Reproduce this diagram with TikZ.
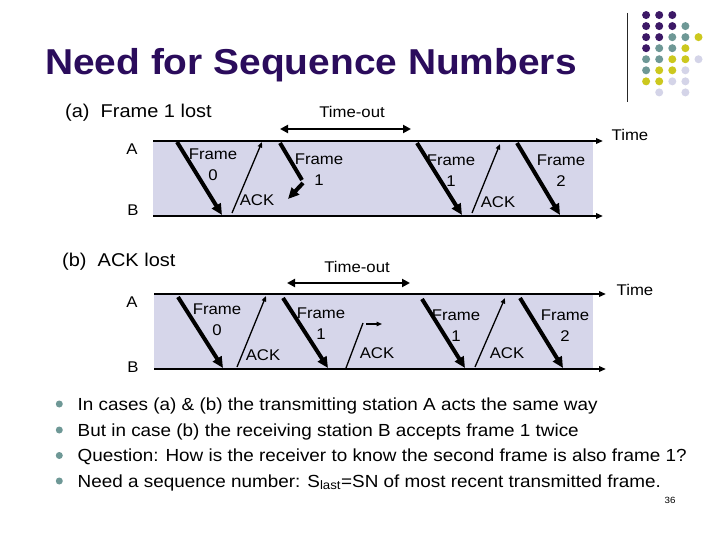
\documentclass[tikz,border=0pt]{standalone}
\usepackage{fontspec}
\setmainfont{Liberation Sans}[FakeStretch=1.08]
\usepackage{tikz}
\usetikzlibrary{arrows.meta}
\definecolor{titlepurple}{RGB}{43,12,92}
\definecolor{lanefill}{RGB}{214,214,234}
\definecolor{dotP}{RGB}{60,24,102}
\definecolor{dotT}{RGB}{110,152,150}
\definecolor{dotY}{RGB}{204,200,30}
\definecolor{dotL}{RGB}{212,212,232}

\begin{document}
\begin{tikzpicture}[x=1pt, y=-1pt,
  lane/.style={fill=lanefill, draw=none},
  axis/.style={-{Triangle[length=7pt,width=5.5pt]}, line width=1.8pt},
  framearr/.style={-{Triangle[length=11pt,width=10pt]}, line width=4pt},
  ackarr/.style={-{Triangle[length=5.5pt,width=4.5pt]}, line width=1.3pt},
  timeout/.style={{Triangle[length=8pt,width=8pt]}-{Triangle[length=8pt,width=8pt]}, line width=2.8pt},
  lbl/.style={font=\fontsize{15.5}{21}\selectfont, align=center, inner sep=0pt},
  station/.style={font=\fontsize{15.5}{18}\selectfont, inner sep=0pt},
  case/.style={font=\fontsize{18.5}{22}\selectfont, anchor=base west, inner sep=0pt},
  item/.style={font=\fontsize{17.5}{21}\selectfont, anchor=base west, inner sep=0pt},
  bullet/.style={fill=dotT, draw=none}
]
\useasboundingbox[fill=white] (0,0) rectangle (720,540);

% title and corner ornament
\node[anchor=base west, inner sep=0pt, text=titlepurple, font=\fontsize{36}{40}\selectfont\bfseries] (title) at (45,74.5) {Need for Sequence Numbers};
\coordinate (rule top) at (627,13);
\coordinate (rule bot) at (627,102);
\draw[line width=0.8pt, black!85] (rule top) -- (rule bot);
\foreach \c/\r/\col in {1/1/dotP, 2/1/dotP, 3/1/dotP,
    1/2/dotP, 2/2/dotP, 3/2/dotP, 4/2/dotT,
    1/3/dotP, 2/3/dotP, 3/3/dotT, 4/3/dotT, 5/3/dotY,
    1/4/dotP, 2/4/dotT, 3/4/dotT, 4/4/dotY,
    1/5/dotT, 2/5/dotT, 3/5/dotY, 4/5/dotY, 5/5/dotL,
    1/6/dotT, 2/6/dotY, 3/6/dotY, 4/6/dotL,
    1/7/dotY, 2/7/dotY, 3/7/dotL, 4/7/dotL,
    2/8/dotL, 4/8/dotL}
  \fill[\col] ({633+13.1*\c},{4+11.05*\r}) circle (4pt);

% (a) frame 1 lost
\node[case] (case a) at (65,117.3) {(a)\ \ Frame 1 lost};
\coordinate (a-A0) at (153,141);
\coordinate (a-A1) at (603,141);
\coordinate (a-B0) at (153,216);
\coordinate (a-B1) at (603,216);
\coordinate (a-R) at (593,216);
\fill[lane] (a-A0) rectangle (a-R);
\draw[axis] (a-A0) -- (a-A1);
\draw[axis] (a-B0) -- (a-B1);
\node[station] (a-A) at (132,149) {A};
\node[station] (a-B) at (133,210.5) {B};
\node[station] (a-time) at (630,134.5) {Time};
\coordinate (a-to0) at (280,129);
\coordinate (a-to1) at (411,129);
\draw[timeout] (a-to0) -- (a-to1);
\node[station] (a-timeout) at (352,112) {Time-out};

\coordinate (a-f0s) at (177,142);
\coordinate (a-f0e) at (222,215);
\coordinate (a-k0s) at (232,213);
\coordinate (a-k0e) at (262,142);
\coordinate (a-l0) at (280,143);
\coordinate (a-l1) at (302,180);
\coordinate (a-l2) at (303,183);
\coordinate (a-l3) at (288,199);
\coordinate (a-f1s) at (417,143);
\coordinate (a-f1e) at (462,215);
\coordinate (a-k1s) at (472,213);
\coordinate (a-k1e) at (500,144);
\coordinate (a-f2s) at (517,143);
\coordinate (a-f2e) at (560,215);
\draw[framearr] (a-f0s) -- (a-f0e);
\draw[ackarr] (a-k0s) -- (a-k0e);
\draw[framearr, -] (a-l0) -- (a-l1);
\draw[framearr] (a-l2) -- (a-l3);
\draw[framearr] (a-f1s) -- (a-f1e);
\draw[ackarr] (a-k1s) -- (a-k1e);
\draw[framearr] (a-f2s) -- (a-f2e);
\node[lbl] (a-f0) at (213,164.5) {Frame\\0};
\node[lbl] (a-k0) at (257,200) {ACK};
\node[lbl] (a-f1) at (319,169.5) {Frame\\1};
\node[lbl] (a-f1b) at (451,170.5) {Frame\\1};
\node[lbl] (a-k1) at (498,202) {ACK};
\node[lbl] (a-f2) at (561,171) {Frame\\2};

% (b) ACK lost
\node[case] (case b) at (62,266) {(b)\ \ ACK lost};
\coordinate (b-A0) at (154,294);
\coordinate (b-A1) at (606,294);
\coordinate (b-B0) at (154,369);
\coordinate (b-B1) at (606,369);
\coordinate (b-R) at (593,369);
\fill[lane] (b-A0) rectangle (b-R);
\draw[axis] (b-A0) -- (b-A1);
\draw[axis] (b-B0) -- (b-B1);
\node[station] (b-A) at (132,301.7) {A};
\node[station] (b-B) at (133,367) {B};
\node[station] (b-time) at (635,290) {Time};
\coordinate (b-to0) at (287,283);
\coordinate (b-to1) at (410,283);
\draw[timeout] (b-to0) -- (b-to1);
\node[station] (b-timeout) at (357,267) {Time-out};

\coordinate (b-f0s) at (178,297);
\coordinate (b-f0e) at (223,368);
\coordinate (b-k0s) at (237,367);
\coordinate (b-k0e) at (266,296);
\coordinate (b-f1s) at (283,298);
\coordinate (b-f1e) at (328,368);
\coordinate (b-l0) at (346,368);
\coordinate (b-l1) at (363,323);
\coordinate (b-l2) at (366,324);
\coordinate (b-l3) at (382,324);
\coordinate (b-f1bs) at (422,299);
\coordinate (b-f1be) at (465,368);
\coordinate (b-k1s) at (475,367);
\coordinate (b-k1e) at (505,298);
\coordinate (b-f2s) at (520,298);
\coordinate (b-f2e) at (563,368);
\draw[framearr] (b-f0s) -- (b-f0e);
\draw[ackarr] (b-k0s) -- (b-k0e);
\draw[framearr] (b-f1s) -- (b-f1e);
\draw[ackarr, -] (b-l0) -- (b-l1);
\draw[ackarr] (b-l2) -- (b-l3);
\draw[framearr] (b-f1bs) -- (b-f1be);
\draw[ackarr] (b-k1s) -- (b-k1e);
\draw[framearr] (b-f2s) -- (b-f2e);
\node[lbl] (b-f0) at (217,320) {Frame\\0};
\node[lbl] (b-k0) at (263,355) {ACK};
\node[lbl] (b-f1) at (321,324) {Frame\\1};
\node[lbl] (b-kl) at (377,353) {ACK};
\node[lbl] (b-f1b) at (456,325.5) {Frame\\1};
\node[lbl] (b-k1) at (507,353) {ACK};
\node[lbl] (b-f2) at (565,326) {Frame\\2};

% bullet list
\foreach \y/\txt [count=\i] in {410/{In cases (a) \& (b) the transmitting station A acts the same way},
    436/{But in case (b) the receiving station B accepts frame 1 twice},
    461.5/{Question: How is the receiver to know the second frame is also frame 1?},
    487/{Need a sequence number: S\textsubscript{last}=SN of most recent transmitted frame.}} {
  \fill[bullet] (59.3,\y-6) circle (3.5pt);
  \node[item] (item\i) at (77.5,\y) {\txt};
}
\node[font=\fontsize{9}{10}\selectfont, inner sep=0pt] (pageno) at (670,500) {36};
\end{tikzpicture}
\end{document}
